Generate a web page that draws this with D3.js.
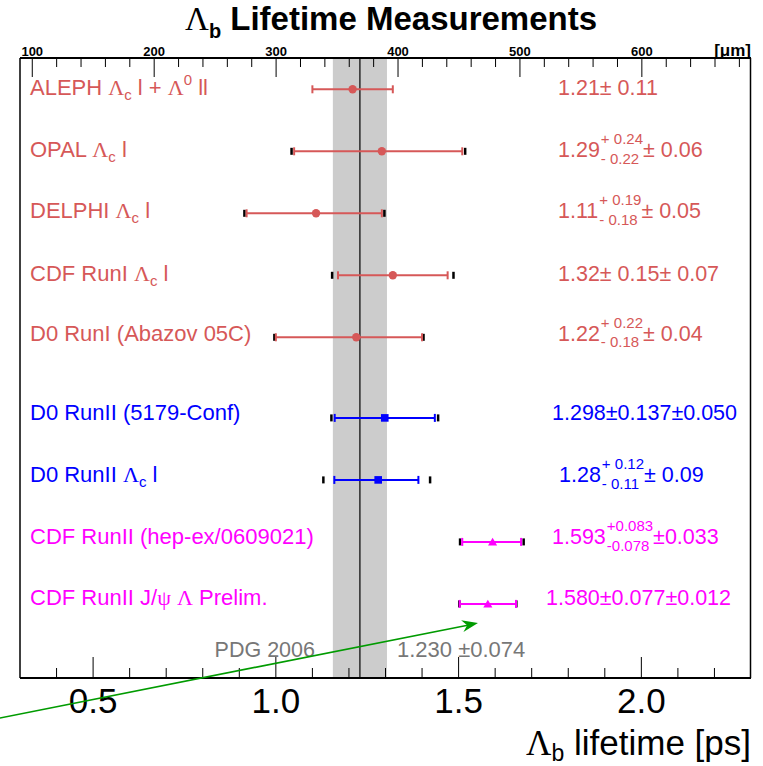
<!DOCTYPE html>
<html><head><meta charset="utf-8">
<script src="https://cdn.jsdelivr.net/npm/d3@7"></script>
<style>body{margin:0;background:#fff}svg{display:block}text{font-family:"Liberation Sans",Arial,sans-serif}</style>
</head><body><svg id="c" width="763" height="766"></svg>
<script>
// ---------- data ----------
const labels = [
  [["ALEPH ","n"],["Λ","g"],["c","sub"],[" l + ","n"],["Λ","g"],["0","sup"],[" ll","n"]],
  [["OPAL ","n"],["Λ","g"],["c","sub"],[" l","n"]],
  [["DELPHI ","n"],["Λ","g"],["c","sub"],[" l","n"]],
  [["CDF RunI ","n"],["Λ","g"],["c","sub"],[" l","n"]],
  [["D0 RunI (Abazov 05C)","n"]],
  [["D0 RunII (5179-Conf)","n"]],
  [["D0 RunII ","n"],["Λ","g"],["c","sub"],[" l","n"]],
  [["CDF RunII (hep-ex/0609021)","n"]],
  [["CDF RunII J/","n"],["ψ","g"],[" ","n"],["Λ","g"],[" Prelim.","n"]]
];
const groups   = ["LEP","LEP","LEP","RunI","RunI","D0II","D0II","CDFII","CDFII"];
const rowPos   = [0,1,2,3,4,5.3,6.3,7.3,8.3];
const values   = [1.21,1.29,1.11,1.32,1.22,1.298,1.28,1.593,1.580];
const statLo   = [0.11,0.24,0.19,0.15,0.22,0.137,0.12,0.083,0.077];
const statHi   = [0.11,0.22,0.18,0.15,0.18,0.137,0.11,0.078,0.077];
const totLo    = [null,0.247,0.196,0.166,0.224,0.146,0.150,0.089,0.078];
const totHi    = [null,0.228,0.187,0.166,0.184,0.146,0.142,0.085,0.078];
const valMain  = ["1.21\u00b1 0.11","1.29","1.11","1.32\u00b1 0.15\u00b1 0.07","1.22","1.298\u00b10.137\u00b10.050","1.28","1.593","1.580\u00b10.077\u00b10.012"];
const valSup   = [null,"+ 0.24","+ 0.19",null,"+ 0.22",null,"+ 0.12","+0.083",null];
const valSub   = [null,"- 0.22","- 0.18",null,"- 0.18",null,"- 0.11","-0.078",null];
const valTail  = [null,"\u00b1 0.06","\u00b1 0.05",null,"\u00b1 0.04",null,"\u00b1 0.09","\u00b10.033",null];
const pdgValue = 1.230, pdgErr = 0.074;
const pdgLabel = "PDG 2006", pdgText = "1.230 \u00b10.074";
const bottomTicks = [0.5,1.0,1.5,2.0];
const bottomTickLabels = ["0.5","1.0","1.5","2.0"];
const topTicks = [100,200,300,400,500,600];
const topTickLabels = ["100","200","300","400","500","600"];
const cLight = 299.792458; // um per ps
const arrowFrom = [0.245, 10.14], arrowTo = [1.553, 8.61];

// ---------- layout / style ----------
const colors = {LEP:"rgb(214,88,88)", RunI:"rgb(214,88,88)", D0II:"#0000ff", CDFII:"#ff00ff"};
const shapes = {LEP:"circle", RunI:"circle", D0II:"square", CDFII:"triangle"};
const labelDy = [6,6,5,6,3.5,2.5,2.5,2.5,1];
const valueX  = [558,558,558,558,558,552,559,552,546];
const L=20, R=751, T=58, B=678;

const svg = d3.select("#c");
const x = d3.scaleLinear().domain([0.3,2.3]).range([L,R]);
const xu = d3.scaleLinear().domain([0.3*cLight,2.3*cLight]).range([L,R]);
const y = d3.scaleLinear().domain([0,8.3]).range([89.3,603.9]);

// PDG band
svg.append("rect").attr("x",x(pdgValue-pdgErr)).attr("y",T).attr("width",x(pdgValue+pdgErr)-x(pdgValue-pdgErr)).attr("height",B-T).attr("fill","#cccccc");
svg.append("line").attr("x1",x(pdgValue)).attr("x2",x(pdgValue)).attr("y1",T).attr("y2",B).attr("stroke","#000").attr("stroke-width",1.2);

// frame
svg.append("line").attr("x1",L).attr("x2",L).attr("y1",T).attr("y2",B).attr("stroke","#000").attr("stroke-width",1.5);
svg.append("line").attr("x1",R-0.5).attr("x2",R-0.5).attr("y1",T).attr("y2",B).attr("stroke","#000").attr("stroke-width",1.5);

// bottom axis
const bottomG = svg.append("g");
bottomG.append("line").attr("x1",L).attr("x2",R).attr("y1",B).attr("y2",B).attr("stroke","#000").attr("stroke-width",2);
bottomG.selectAll("line.t").data(d3.range(4,23).map(d=>d/10)).join("line").attr("class","t")
  .attr("x1",d=>x(d)).attr("x2",d=>x(d)).attr("y1",B)
  .attr("y2",d=>B-(bottomTicks.some(m=>Math.abs(m-d)<1e-6)?21:10)).attr("stroke","#000").attr("stroke-width",1);
bottomG.selectAll("text").data(bottomTicks).join("text")
  .attr("x",d=>x(d)).attr("y",713).attr("text-anchor","middle").attr("font-size",35)
  .text((d,i)=>bottomTickLabels[i]);
const xt = svg.append("text").attr("x",R).attr("y",755).attr("text-anchor","end").attr("font-size",35);
xt.append("tspan").attr("font-family","Liberation Serif").text("Λ");
xt.append("tspan").attr("font-size",23).attr("dy",6).text("b");
xt.append("tspan").attr("dy",-6).text(" lifetime [ps]");

// top axis
const topG = svg.append("g");
topG.append("line").attr("x1",L).attr("x2",R).attr("y1",T).attr("y2",T).attr("stroke","#000").attr("stroke-width",2);
const topMinor = d3.range(100,700,20).filter(v=>xu(v)<R-1);
topG.selectAll("line.t").data(topMinor).join("line").attr("class","t")
  .attr("x1",d=>xu(d)).attr("x2",d=>xu(d)).attr("y1",T)
  .attr("y2",d=>T+(d%100===0?19:9)).attr("stroke","#000").attr("stroke-width",1);
topG.selectAll("text").data(topTicks).join("text")
  .attr("x",d=>xu(d)).attr("y",56).attr("text-anchor","middle").attr("font-size",13).attr("font-weight","bold")
  .text((d,i)=>topTickLabels[i]);
svg.append("text").attr("x",R).attr("y",56).attr("text-anchor","end").attr("font-size",17).attr("font-weight","bold").text("[\u03bcm]");

// title
const ti = svg.append("text").attr("x",391).attr("y",30).attr("text-anchor","middle").attr("font-size",33).attr("font-weight","bold");
ti.append("tspan").attr("font-family","Liberation Serif").attr("font-weight","normal").text("Λ");
ti.append("tspan").attr("font-size",20).attr("dy",8).text("b");
ti.append("tspan").attr("dy",-8).text(" Lifetime Measurements");

// rows
const rows = values.map((v,i)=>({i,v,g:groups[i],yy:y(rowPos[i])}));
const rg = svg.append("g");
rows.forEach(r=>{
  const col = colors[r.g], i=r.i;
  if (totLo[i]!==null){
    [r.v-totLo[i], r.v+totHi[i]].forEach(e=>{
      rg.append("line").attr("x1",x(e)).attr("x2",x(e)).attr("y1",r.yy-3.5).attr("y2",r.yy+3.5).attr("stroke","#000").attr("stroke-width",2.5);
    });
  }
  rg.append("line").attr("x1",x(r.v-statLo[i])).attr("x2",x(r.v+statHi[i])).attr("y1",r.yy).attr("y2",r.yy).attr("stroke",col).attr("stroke-width",2);
  [r.v-statLo[i], r.v+statHi[i]].forEach(e=>{
    rg.append("line").attr("x1",x(e)).attr("x2",x(e)).attr("y1",r.yy-4).attr("y2",r.yy+4).attr("stroke",col).attr("stroke-width",2);
  });
  const sh = shapes[r.g];
  const sym = sh==="circle"?d3.symbolCircle:(sh==="square"?d3.symbolSquare:d3.symbolTriangle);
  const size = sh==="circle"?55:(sh==="square"?58:36);
  rg.append("path").attr("d",d3.symbol().type(sym).size(size)()).attr("transform",`translate(${x(r.v)},${r.yy+(sh==="triangle"?1:0)})`).attr("fill",col);

  const by = r.yy+labelDy[i];
  const t = rg.append("text").attr("x",30).attr("y",by).attr("font-size",22).attr("fill",col);
  let off=0;
  labels[i].forEach(([s,k])=>{
    const sp = t.append("tspan").text(s);
    let target = 0;
    if(k==="g"){ sp.attr("font-family","Liberation Serif"); }
    if(k==="sub"){ sp.attr("font-size",15); target=5; }
    if(k==="sup"){ sp.attr("font-size",15); target=-10; }
    if(target!==off){ sp.attr("dy",target-off); off=target; }
  });
  const vx = valueX[i];
  const vt = rg.append("text").attr("x",vx).attr("y",by).attr("font-size",21.5).attr("fill",col).text(valMain[i]);
  if(valSup[i]){
    const w = vt.node().getComputedTextLength();
    const s1 = rg.append("text").attr("x",vx+w+1).attr("y",by-13).attr("font-size",15).attr("fill",col).text(valSup[i]);
    const s2 = rg.append("text").attr("x",vx+w+1).attr("y",by+6.5).attr("font-size",15).attr("fill",col).text(valSub[i]);
    const w2 = Math.max(s1.node().getComputedTextLength(), s2.node().getComputedTextLength());
    rg.append("text").attr("x",vx+w+w2+1).attr("y",by).attr("font-size",21.5).attr("fill",col).text(valTail[i]);
  }
});

// PDG labels
svg.append("text").attr("x",315).attr("y",656.7).attr("text-anchor","end").attr("font-size",21.5).attr("fill","#777").text(pdgLabel);
svg.append("text").attr("x",397).attr("y",656.7).attr("font-size",22).attr("fill","#777").text(pdgText);

// green arrow
const ax0=x(arrowFrom[0]), ay0=y(arrowFrom[1]), ax1=x(arrowTo[0]), ay1=y(arrowTo[1]);
svg.append("line").attr("x1",ax0).attr("y1",ay0).attr("x2",ax1-4).attr("y2",ay1+0.8).attr("stroke","rgb(0,155,0)").attr("stroke-width",1.6);
const ang = Math.atan2(ay1-ay0, ax1-ax0)*180/Math.PI;
svg.append("path").attr("d","M0,0 L-16,-6 L-11,0 L-16,6 Z").attr("fill","rgb(0,155,0)")
  .attr("transform",`translate(${ax1},${ay1}) rotate(${ang})`);
</script></body></html>
